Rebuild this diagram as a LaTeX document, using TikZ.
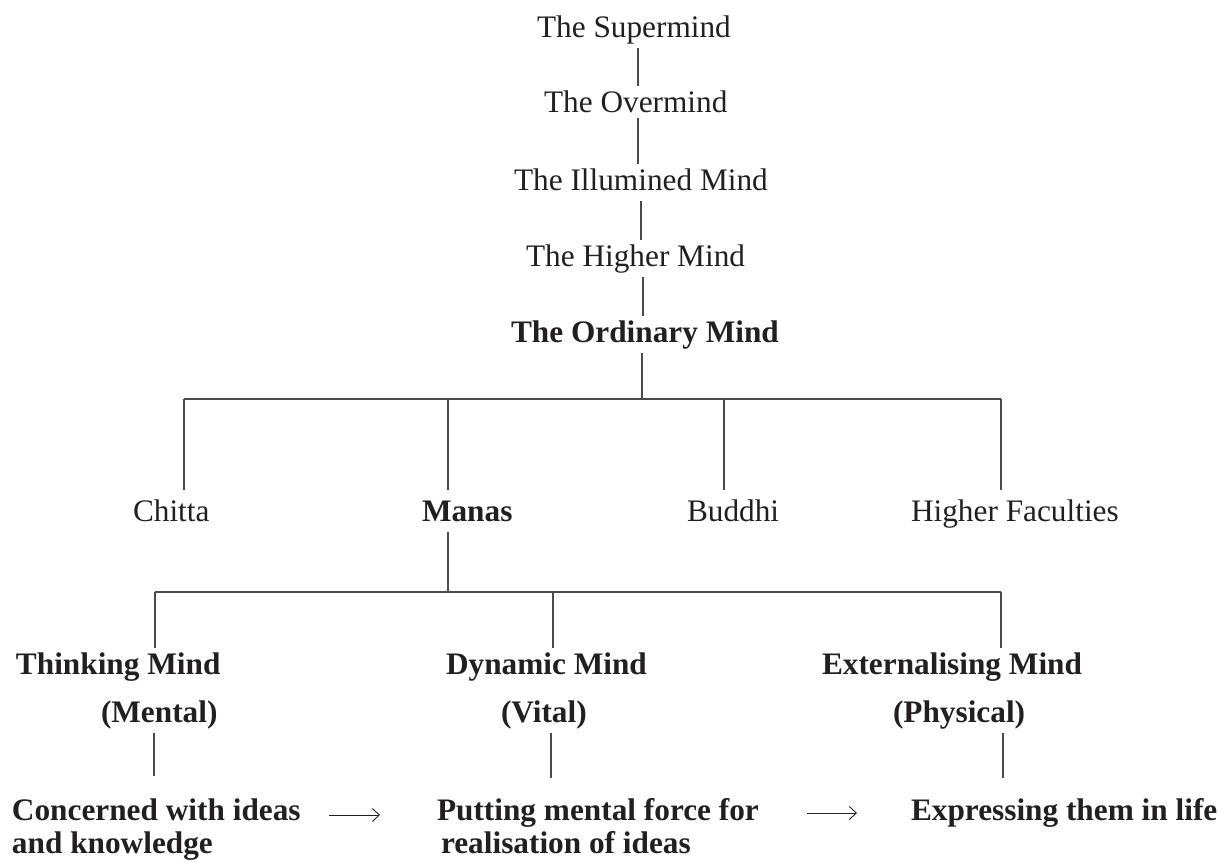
\documentclass[tikz,border=0pt]{standalone}
\usepackage{fontspec}
\setmainfont{Liberation Serif}
\usetikzlibrary{arrows.meta}
\definecolor{ink}{HTML}{231F20}
\definecolor{rule}{HTML}{4A4A4A}
\begin{document}
\begin{tikzpicture}[x=1pt,y=-1pt,
  lbl/.style={anchor=base west,inner sep=0pt,outer sep=4pt,text=ink,
    font=\fontsize{31.3}{33}\selectfont,text height=22pt,text depth=7pt},
  blbl/.style={lbl,font=\fontsize{31.3}{33}\selectfont\bfseries},
  conn/.style={draw=rule,line width=1.1pt},
  flow/.style={draw=ink,line width=0.9pt,-{Straight Barb[length=7pt,width=13pt,line width=0.9pt]}}]
\useasboundingbox (0,0) rectangle (1226,862);
% top chain
\node[lbl]  (sup)    at (533,37)  {The Supermind};
\node[lbl]  (over)   at (540,112) {The Overmind};
\node[lbl]  (illum)  at (510,190) {The Illumined Mind};
\node[lbl]  (higher) at (522,266) {The Higher Mind};
\node[blbl] (ord)    at (507,342) {The Ordinary Mind};
\coordinate (xa) at (638,0);
\coordinate (xb) at (638,0);
\coordinate (xc) at (641,0);
\coordinate (xd) at (643,0);
\draw[conn] (sup.south -| xa) -- (over.north -| xa);
\draw[conn] ([yshift=5pt]over.south -| xb) -- (illum.north -| xb);
\draw[conn] (illum.south -| xc) -- (higher.north -| xc);
\draw[conn] (higher.south -| xd) -- (ord.north -| xd);
% first level
\node[lbl]  (chitta) at (129,521) {Chitta};
\node[blbl] (manas)  at (418,521) {Manas};
\node[lbl]  (buddhi) at (683,521) {Buddhi};
\node[lbl]  (hf)     at (907,521) {Higher Faculties};
\coordinate (bL) at (184,399);
\coordinate (bM) at (448,399);
\coordinate (bC) at (642,399);
\coordinate (bB) at (724,399);
\coordinate (bR) at (1001,399);
\draw[conn] (bL) -- (bR);
\draw[conn] (ord.south -| bC) -- (bC);
\draw[conn] (bL) -- ([yshift=5pt]chitta.north -| bL);
\draw[conn] (bM) -- ([yshift=5pt]manas.north -| bM);
\draw[conn] (bB) -- ([yshift=5pt]buddhi.north -| bB);
\draw[conn] (bR) -- ([yshift=5pt]hf.north -| bR);
% second level
\node[blbl] (think) at (12,674)  {Thinking Mind};
\node[blbl] (dyn)   at (442,674) {Dynamic Mind};
\node[blbl] (ext)   at (818,674) {Externalising Mind};
\node[blbl] (ment)  at (97,722)  {(Mental)};
\node[blbl] (vit)   at (497,722) {(Vital)};
\node[blbl] (phys)  at (889,722) {(Physical)};
\coordinate (cL) at (155,592);
\coordinate (cM) at (448,592);
\coordinate (cC) at (553,592);
\coordinate (cR) at (1001,592);
\draw[conn] (cL) -- (cR);
\draw[conn] (manas.south -| cM) -- (cM);
\draw[conn] (cL) -- (think.north -| cL);
\draw[conn] (cC) -- (dyn.north -| cC);
\draw[conn] (cR) -- (ext.north -| cR);
% bottom level
\node[blbl] (conc)  at (8,820)   {Concerned with ideas};
\node[blbl] (conc2) at (8,853)   {and knowledge};
\node[blbl] (put)   at (433,820) {Putting mental force for};
\node[blbl] (put2)  at (437,853) {realisation of ideas};
\node[blbl] (expr)  at (907,820) {Expressing them in life};
\coordinate (dL) at (154,0);
\coordinate (dM) at (551,0);
\coordinate (dR) at (1003,0);
\draw[conn] (ment.south -| dL) -- ([yshift=18pt]conc.north -| dL);
\draw[conn] (vit.south -| dM) -- ([yshift=16pt]put.north -| dM);
\draw[conn] (phys.south -| dR) -- ([yshift=16pt]expr.north -| dR);
% arrows
\coordinate (a1s) at (329,815);
\coordinate (a1e) at (380,815);
\coordinate (a2s) at (807,813);
\coordinate (a2e) at (857,813);
\draw[flow] (a1s) -- (a1e);
\draw[flow] (a2s) -- (a2e);
\end{tikzpicture}
\end{document}
